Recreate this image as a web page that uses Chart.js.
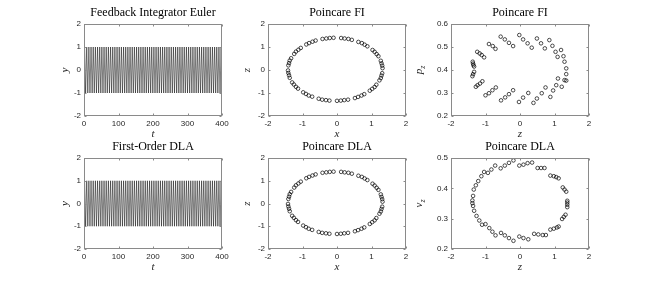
<!DOCTYPE html>
<html>
<head>
<meta charset="utf-8">
<script src="https://cdn.jsdelivr.net/npm/chart.js@4.4.1/dist/chart.umd.min.js"></script>
<style>
  body { margin: 0; background: #fff; }
  #fig { position: relative; width: 650px; height: 283px; overflow: hidden; background: #fff; }
  #fig canvas { position: absolute; }
</style>
</head>
<body>
<div id="fig">
  <canvas id="c1"></canvas>
  <canvas id="c2"></canvas>
  <canvas id="c3"></canvas>
  <canvas id="c4"></canvas>
  <canvas id="c5"></canvas>
  <canvas id="c6"></canvas>
</div>
<script>
// turning points of the oscillation y(t) (both integrators look the same)
const turnT = [0,
  1.6, 4.7, 7.9, 11.0, 14.1, 17.3, 20.4, 23.6, 26.7, 29.8, 33.0, 36.1, 39.3, 42.4, 45.6, 48.7, 51.8, 55.0, 58.1, 61.3,
  64.4, 67.5, 70.7, 73.8, 77.0, 80.1, 83.3, 86.4, 89.5, 92.7, 95.8, 99.0, 102.1, 105.2, 108.4, 111.5, 114.7, 117.8, 120.9, 124.1,
  127.2, 130.4, 133.5, 136.7, 139.8, 142.9, 146.1, 149.2, 152.4, 155.5, 158.6, 161.8, 164.9, 168.1, 171.2, 174.4, 177.5, 180.6, 183.8, 186.9,
  190.1, 193.2, 196.3, 199.5, 202.6, 205.8, 208.9, 212.1, 215.2, 218.3, 221.5, 224.6, 227.8, 230.9, 234.0, 237.2, 240.3, 243.5, 246.6, 249.8,
  252.9, 256.0, 259.2, 262.3, 265.5, 268.6, 271.7, 274.9, 278.0, 281.2, 284.3, 287.5, 290.6, 293.7, 296.9, 300.0, 303.2, 306.3, 309.4, 312.6,
  315.7, 318.9, 322.0, 325.2, 328.3, 331.4, 334.6, 337.7, 340.9, 344.0, 347.1, 350.3, 353.4, 356.6, 359.7, 362.9, 366.0, 369.1, 372.3, 375.4,
  378.6, 381.7, 384.8, 388.0, 391.1, 394.3, 397.4,
  400];
const eulerY = [0,
  1, -1, 1, -1, 1, -1, 1, -1, 1, -1, 1, -1, 1, -1, 1, -1, 1, -1, 1, -1,
  1, -1, 1, -1, 1, -1, 1, -1, 1, -1, 1, -1, 1, -1, 1, -1, 1, -1, 1, -1,
  1, -1, 1, -1, 1, -1, 1, -1, 1, -1, 1, -1, 1, -1, 1, -1, 1, -1, 1, -1,
  1, -1, 1, -1, 1, -1, 1, -1, 1, -1, 1, -1, 1, -1, 1, -1, 1, -1, 1, -1,
  1, -1, 1, -1, 1, -1, 1, -1, 1, -1, 1, -1, 1, -1, 1, -1, 1, -1, 1, -1,
  1, -1, 1, -1, 1, -1, 1, -1, 1, -1, 1, -1, 1, -1, 1, -1, 1, -1, 1, -1,
  1, -1, 1, -1, 1, -1, 1,
  -0.85];
const dlaY = eulerY.slice();

// Poincare section x-z (FI)
const fiX = [1.32, 1.31, 1.29, 1.27, 1.20, 1.15, 1.09, 1.03, 0.88, 0.80, 0.72, 0.62, 0.43, 0.33, 0.22, 0.12,
  -0.10, -0.21, -0.31, -0.42, -0.62, -0.71, -0.81, -0.89, -1.05, -1.12, -1.19, -1.24, -1.33, -1.37, -1.39, -1.41,
  -1.42, -1.41, -1.39, -1.37, -1.30, -1.25, -1.19, -1.13, -0.98, -0.90, -0.82, -0.72, -0.53, -0.43, -0.32, -0.22,
  0.00, 0.11, 0.21, 0.32, 0.52, 0.61, 0.71, 0.79, 0.95, 1.02, 1.09, 1.14, 1.23, 1.27, 1.29, 1.31];
const fiZ = [0.08, 0.19, 0.29, 0.40, 0.60, 0.69, 0.79, 0.87, 1.03, 1.10, 1.17, 1.22, 1.31, 1.35, 1.37, 1.39,
  1.40, 1.39, 1.37, 1.35, 1.28, 1.23, 1.17, 1.11, 0.96, 0.88, 0.80, 0.70, 0.51, 0.41, 0.30, 0.20,
  -0.02, -0.13, -0.23, -0.34, -0.54, -0.63, -0.73, -0.81, -0.97, -1.04, -1.11, -1.16, -1.25, -1.29, -1.31, -1.33,
  -1.34, -1.33, -1.31, -1.29, -1.22, -1.17, -1.11, -1.05, -0.90, -0.82, -0.74, -0.64, -0.45, -0.35, -0.24, -0.14];
// Poincare section x-z (DLA) - same ring
const dlaX = fiX.slice();
const dlaZ = fiZ.slice();

// Poincare section z-p_z (FI)
const pzZ = [-0.56, -0.44, -0.32, -0.20, -0.02, 0.09, 0.22, 0.34, 0.49, 0.61, 0.72, 0.85, 0.94, 1.03,
  1.19, 1.09, 1.26, 1.29, 1.34, 1.34, 1.29, 1.34, 1.21, 1.10, 1.05, 0.96, 0.88, 0.74, 0.63, 0.49, 0.39,
  0.24, 0.09, -0.03, -0.20, -0.32, -0.43, -0.55, -0.70, -0.80, -0.90, -1.00, -1.09, -1.16, -1.23, -1.28,
  -1.37, -1.36, -1.35, -1.33, -1.33, -1.36, -1.38, -1.24, -1.17, -1.11, -1.04, -0.90, -0.79, -0.71];
const pzP = [0.545, 0.533, 0.518, 0.504, 0.552, 0.533, 0.516, 0.497, 0.537, 0.516, 0.494, 0.530, 0.505, 0.479,
  0.487, 0.457, 0.460, 0.436, 0.407, 0.382, 0.356, 0.354, 0.327, 0.363, 0.334, 0.311, 0.283, 0.324, 0.299, 0.276, 0.257,
  0.300, 0.280, 0.261, 0.312, 0.295, 0.281, 0.268, 0.324, 0.312, 0.299, 0.290, 0.351, 0.341, 0.334, 0.327,
  0.436, 0.428, 0.421, 0.415, 0.392, 0.382, 0.373, 0.479, 0.472, 0.465, 0.455, 0.513, 0.504, 0.492];

// Poincare section z-v_z (DLA)
const vzZ = [-0.19, -0.32, -0.44, -0.56, -0.72, -0.83, -0.93, -1.04,
  -1.12, -1.21, -1.28, -1.34, -1.36, -1.38, -1.38, -1.36, -1.33, -1.26, -1.18, -1.10,
  -1.00, -0.89, -0.80, -0.71, -0.55, -0.44, -0.32, -0.19, -0.02, 0.10, 0.24,
  0.41, 0.53, 0.66, 0.75, 0.88, 0.98, 1.07, 1.12, 1.22, 1.27, 1.32,
  1.37, 1.37, 1.37, 1.37, 1.34, 1.29, 1.24, 1.12, 1.05, 0.98, 0.88,
  0.71, 0.61, 0.51, 0.35, 0.22, 0.10, -0.02];
const vzV = [0.492, 0.484, 0.475, 0.466, 0.475, 0.462, 0.451, 0.454,
  0.440, 0.424, 0.410, 0.396, 0.375, 0.360, 0.351, 0.342, 0.326, 0.309, 0.294, 0.280,
  0.282, 0.269, 0.257, 0.245, 0.253, 0.245, 0.236, 0.227, 0.241, 0.236, 0.232,
  0.250, 0.248, 0.246, 0.246, 0.264, 0.267, 0.271, 0.274, 0.299, 0.306, 0.313,
  0.338, 0.346, 0.353, 0.359, 0.389, 0.396, 0.403, 0.433, 0.437, 0.440, 0.442,
  0.467, 0.467, 0.467, 0.485, 0.483, 0.478, 0.475];

// an empty right axis as wide as the left one keeps the chart title centred over the box
const AX_W = 40, TOP_H = 24, BOT_H = 26;
const TICK_FONT = { family: '"Liberation Sans", Arial, sans-serif', size: 8 };
const SERIF = '"Liberation Serif", "Times New Roman", serif';
const TEXT_COLOR = '#262626';

// matlab-ish box with small inward ticks on all four sides
const boxPlugin = {
  id: 'matlabBox',
  afterDraw(chart) {
    const { ctx, chartArea: a, scales } = chart;
    const L = Math.round(a.left) + 0.5, R = Math.round(a.right) - 0.5;
    const T = Math.round(a.top) + 0.5, B = Math.round(a.bottom) - 0.5;
    ctx.save();
    ctx.strokeStyle = '#8a8a8a';
    ctx.lineWidth = 1;
    ctx.beginPath();
    scales.x.ticks.forEach(t => {
      const px = Math.round(scales.x.getPixelForValue(t.value)) + 0.5;
      ctx.moveTo(px, B); ctx.lineTo(px, B - 2);
      ctx.moveTo(px, T); ctx.lineTo(px, T + 2);
    });
    scales.y.ticks.forEach(t => {
      const py = Math.round(scales.y.getPixelForValue(t.value)) + 0.5;
      ctx.moveTo(L, py); ctx.lineTo(L + 2, py);
      ctx.moveTo(R, py); ctx.lineTo(R - 2, py);
    });
    ctx.stroke();
    ctx.strokeRect(L, T, R - L, B - T);
    ctx.restore();
  }
};

// y label with a subscript (p_z, v_z), rotated like the axis titles
const subLabelPlugin = {
  id: 'subLabel',
  afterDraw(chart, args, opts) {
    if (!opts.base) return;
    const { ctx, chartArea: a } = chart;
    ctx.save();
    ctx.translate(a.left - opts.dx, (a.top + a.bottom) / 2);
    ctx.rotate(-Math.PI / 2);
    ctx.fillStyle = TEXT_COLOR;
    ctx.textBaseline = 'alphabetic';
    ctx.font = 'italic 11px ' + SERIF;
    const w1 = ctx.measureText(opts.base).width;
    ctx.font = 'italic 8px ' + SERIF;
    const w2 = ctx.measureText(opts.sub).width;
    const x0 = -(w1 + w2) / 2;
    ctx.font = 'italic 11px ' + SERIF;
    ctx.fillText(opts.base, x0, 0);
    ctx.font = 'italic 8px ' + SERIF;
    ctx.fillText(opts.sub, x0 + w1, 2.5);
    ctx.restore();
  }
};

function panel(id, box, p) {
  const cv = document.getElementById(id);
  cv.width = box.w + 2 * AX_W;
  cv.height = box.h + TOP_H + BOT_H;
  cv.style.left = (box.l - AX_W) + 'px';
  cv.style.top = (box.t - TOP_H) + 'px';

  const ds = p.line
    ? { data: p.xs.map((x, i) => ({ x, y: p.ys[i] })), showLine: true, borderColor: '#000', borderWidth: 0.5, pointRadius: 0, tension: 0 }
    : { data: p.xs.map((x, i) => ({ x, y: p.ys[i] })), showLine: false, pointStyle: 'circle', pointRadius: 1.8,
        borderColor: '#000', borderWidth: 0.7, backgroundColor: 'rgba(0,0,0,0)' };

  new Chart(cv, {
    type: 'scatter',
    data: { datasets: [ds] },
    plugins: [boxPlugin, subLabelPlugin],
    options: {
      responsive: false,
      animation: false,
      events: [],
      layout: { padding: 0 },
      plugins: {
        legend: { display: false },
        tooltip: { enabled: false },
        title: {
          display: true, text: p.title, color: '#000',
          font: { family: SERIF, size: 12, weight: 'normal', lineHeight: 1.2 },
          padding: { top: 6, bottom: 3.6 }
        },
        subLabel: p.sub || {}
      },
      scales: {
        x: {
          type: 'linear', min: p.xr[0], max: p.xr[1],
          grid: { display: false, drawTicks: false }, border: { display: false },
          ticks: { stepSize: p.xr[2], font: TICK_FONT, color: TEXT_COLOR, padding: 3, maxRotation: 0 },
          title: { display: true, text: p.xt, color: TEXT_COLOR, padding: { top: 0, bottom: 1 },
            font: { family: SERIF, size: 11, style: 'italic', lineHeight: 1.2 } },
          afterFit: s => { s.height = BOT_H; }
        },
        y: {
          type: 'linear', min: p.yr[0], max: p.yr[1],
          grid: { display: false, drawTicks: false }, border: { display: false },
          ticks: { stepSize: p.yr[2], font: TICK_FONT, color: TEXT_COLOR, padding: 3 },
          title: { display: !p.sub, text: p.yt || '', color: TEXT_COLOR, padding: { top: p.ytPad || 0, bottom: 0 },
            font: { family: SERIF, size: 11, style: 'italic', lineHeight: 1.2 } },
          afterFit: s => { s.width = AX_W; }
        },
        yRight: {
          type: 'linear', position: 'right', min: p.yr[0], max: p.yr[1],
          grid: { display: false, drawTicks: false }, border: { display: false },
          ticks: { display: false },
          afterFit: s => { s.width = AX_W; }
        }
      }
    }
  });
}

const colL = [84, 268, 451];
const PW = 138;
const rowT = [24, 158];
const PH = [92, 91];

panel('c1', { l: colL[0], t: rowT[0], w: PW, h: PH[0] }, {
  title: 'Feedback Integrator Euler', line: true, xs: turnT, ys: eulerY,
  xr: [0, 400, 100], yr: [-2, 2, 1], xt: 't', yt: 'y', ytPad: 14.4
});
panel('c2', { l: colL[1], t: rowT[0], w: PW, h: PH[0] }, {
  title: 'Poincare FI', xs: fiX, ys: fiZ,
  xr: [-2, 2, 1], yr: [-2, 2, 1], xt: 'x', yt: 'z', ytPad: 12.4
});
panel('c3', { l: colL[2], t: rowT[0], w: PW, h: PH[0] }, {
  title: 'Poincare FI', xs: pzZ, ys: pzP,
  xr: [-2, 2, 1], yr: [0.2, 0.6, 0.1], xt: 'z', sub: { base: 'p', sub: 'z', dx: 29 }
});
panel('c4', { l: colL[0], t: rowT[1], w: PW, h: PH[1] }, {
  title: 'First-Order DLA', line: true, xs: turnT, ys: dlaY,
  xr: [0, 400, 100], yr: [-2, 2, 1], xt: 't', yt: 'y', ytPad: 14.4
});
panel('c5', { l: colL[1], t: rowT[1], w: PW, h: PH[1] }, {
  title: 'Poincare DLA', xs: dlaX, ys: dlaZ,
  xr: [-2, 2, 1], yr: [-2, 2, 1], xt: 'x', yt: 'z', ytPad: 12.4
});
panel('c6', { l: colL[2], t: rowT[1], w: PW, h: PH[1] }, {
  title: 'Poincare DLA', xs: vzZ, ys: vzV,
  xr: [-2, 2, 1], yr: [0.2, 0.5, 0.1], xt: 'z', sub: { base: 'v', sub: 'z', dx: 29 }
});
</script>
</body>
</html>
